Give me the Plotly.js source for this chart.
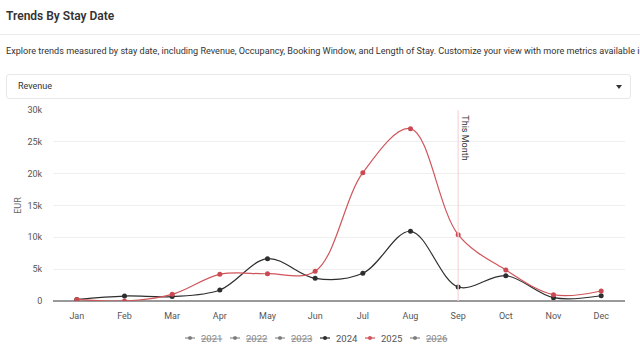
<!DOCTYPE html>
<html>
<head>
<meta charset="utf-8">
<script src="https://cdn.plot.ly/plotly-3.0.1.min.js"></script>
<style>
  html, body { margin:0; padding:0; background:#fff; width:640px; height:354px; overflow:hidden; font-family:"Roboto","Noto Sans",sans-serif; }
  #title { position:absolute; left:6px; top:9px; font-size:12px; font-weight:600; color:#333; }
  #sep { position:absolute; left:0; top:34px; width:640px; height:1px; background:#ececec; }
  #desc { position:absolute; left:6px; top:46px; font-size:9.1px; color:#333; white-space:nowrap; }
  #dd { position:absolute; left:6px; top:74px; width:625px; height:25px; border:1px solid #e8e8e8; border-radius:3px; box-sizing:border-box; }
  #ddtext { position:absolute; left:11px; top:6px; font-size:9px; color:#333; }
  #caret { position:absolute; right:8px; top:10px; width:0; height:0; border-left:3px solid transparent; border-right:3px solid transparent; border-top:4px solid #333; }
  #chart { position:absolute; left:0; top:100px; width:640px; height:254px; }
</style>
</head>
<body>
<div id="title">Trends By Stay Date</div>
<div id="sep"></div>
<div id="desc">Explore trends measured by stay date, including Revenue, Occupancy, Booking Window, and Length of Stay. Customize your view with more metrics available in the</div>
<div id="dd"><div id="ddtext">Revenue</div><div id="caret"></div></div>
<div id="chart"></div>
<script>
const months = ["Jan","Feb","Mar","Apr","May","Jun","Jul","Aug","Sep","Oct","Nov","Dec"];
const rev2024 = [250, 780, 700, 1730, 6650, 3560, 4350, 10950, 2200, 3980, 520, 830];
const rev2025 = [250, 0, 1050, 4190, 4290, 4660, 20150, 27070, 10420, 4870, 990, 1570];
const legendYears = ["2021","2022","2023","2024","2025","2026"];
const legendShown = [false, false, false, true, true, false];
const legendColors = ["#666","#666","#666","#2e2e2e","#d0555b","#666"];
const currentMonth = "Sep";

const traces = [
  { x: months, y: rev2024, name:'2024', type:'scatter', mode:'lines+markers',
    line:{color:'#2e2e2e', width:1.2, shape:'spline', smoothing:1}, marker:{color:'#2e2e2e', size:5} },
  { x: months, y: rev2025, name:'2025', type:'scatter', mode:'lines+markers',
    line:{color:'#d0555b', width:1.2, shape:'spline', smoothing:1}, marker:{color:'#c94a52', size:5} }
];

// custom compact legend (paper coordinates)
const plotL = 53, plotW = 572, plotB = 201, plotH = 191;
const legFirstPx = 190, legPitch = 45, legYpx = 238;
const py = (plotB - legYpx) / plotH;
const shapes = [{type:'line', xref:'x', yref:'paper', x0:currentMonth, x1:currentMonth, y0:0, y1:1,
                 line:{color:'#f6d6d8', width:1.2}}];
const annotations = [{xref:'x', yref:'paper', x:currentMonth, y:1, xanchor:'left', yanchor:'top',
                xshift:0, yshift:-3, text:'This Month', textangle:90, showarrow:false,
                font:{size:9, color:'#333'}}];
legendYears.forEach((yr, i) => {
  const cx = legFirstPx + i * legPitch;
  const col = legendColors[i];
  shapes.push({type:'line', xref:'paper', yref:'paper',
    x0:(cx - 5 - plotL)/plotW, x1:(cx + 5 - plotL)/plotW, y0:py, y1:py,
    line:{color:col, width:1.2}, opacity: legendShown[i] ? 1 : 0.75});
  shapes.push({type:'circle', xref:'paper', yref:'paper',
    x0:(cx - 2 - plotL)/plotW, x1:(cx + 2 - plotL)/plotW,
    y0:py - 2/plotH, y1:py + 2/plotH,
    fillcolor:col, line:{color:col, width:0}, opacity: legendShown[i] ? 1 : 0.75});
  annotations.push({xref:'paper', yref:'paper', x:(cx + 9 - plotL)/plotW, y:py,
    xanchor:'left', yanchor:'middle', showarrow:false,
    text: legendShown[i] ? yr : '<span style="text-decoration:line-through">' + yr + '</span>',
    font:{size:9.5, color: legendShown[i] ? '#555' : '#888'}});
});

const layout = {
  width:640, height:254,
  margin:{l:53, r:15, t:10, b:53},
  paper_bgcolor:'#fff', plot_bgcolor:'#fff',
  font:{family:'Roboto, Noto Sans, sans-serif', size:9, color:'#555'},
  showlegend:false,
  xaxis:{type:'category', categoryarray:months, range:[-0.5, 11.5], showgrid:false,
         showline:false, zeroline:false, ticks:'outside', ticklen:6, tickcolor:'rgba(0,0,0,0)',
         tickfont:{size:9, color:'#555'}},
  yaxis:{range:[0, 30000], dtick:5000, tickformat:'~s', gridcolor:'#efefef', gridwidth:1,
         zeroline:true, zerolinecolor:'#999', zerolinewidth:1.5, showline:false,
         ticks:'outside', ticklen:8, tickcolor:'rgba(0,0,0,0)',
         tickfont:{size:9, color:'#555'},
         title:{text:'EUR', font:{size:9, color:'#666'}, standoff:4}},
  shapes: shapes,
  annotations: annotations
};
Plotly.newPlot('chart', traces, layout, {displayModeBar:false, staticPlot:true});
</script>
</body>
</html>
